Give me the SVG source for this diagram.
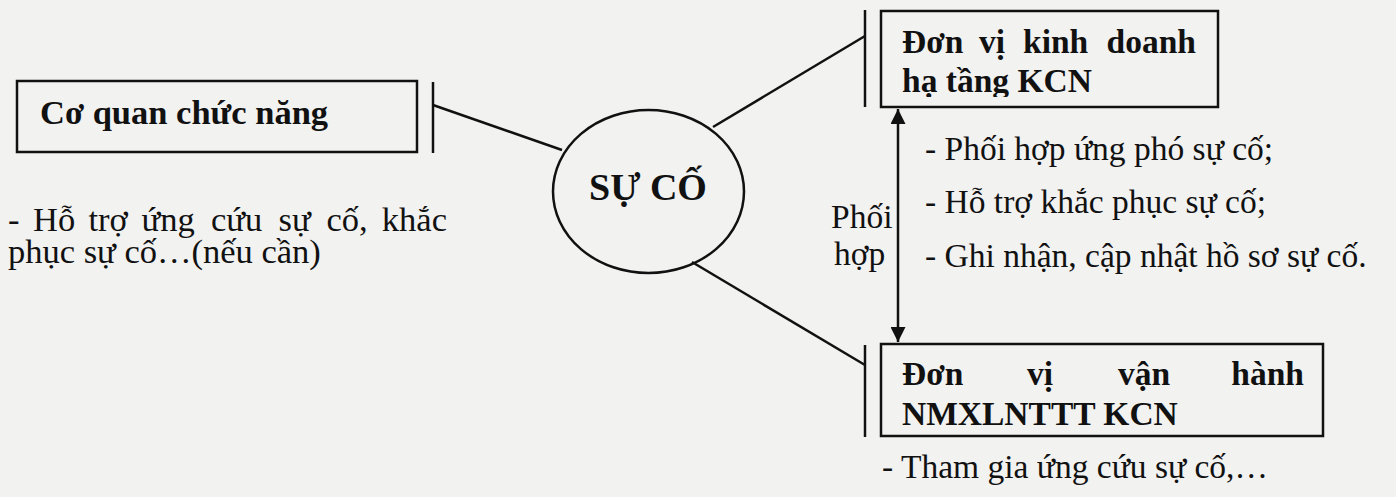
<svg xmlns="http://www.w3.org/2000/svg" width="1396" height="497" viewBox="0 0 1396 497">
<style>
.bg{fill:#f2f2f1}
.box{fill:none;stroke:#111;stroke-width:2.5}
.ln{fill:none;stroke:#111;stroke-width:2.5}
.t{font-family:"Liberation Serif","Times New Roman",serif;font-size:33.5px;fill:#111}
.b{font-weight:bold}
.l{font-size:34.5px}
</style>
<defs>
<marker id="ah" viewBox="0 0 10 10" refX="10" refY="5" markerWidth="15" markerHeight="15" markerUnits="userSpaceOnUse" orient="auto-start-reverse">
<path d="M0,0 L10,5 L0,10 z" fill="#111"/>
</marker>
<clipPath id="clipTop"><rect x="880" y="10" width="340" height="87"/></clipPath>
</defs>
<rect class="bg" x="0" y="0" width="1396" height="497"/>

<g id="connectors">
<line class="ln" x1="433" y1="82" x2="433" y2="153"/>
<line class="ln" x1="433" y1="105" x2="562" y2="150"/>
<line class="ln" x1="865" y1="10" x2="865" y2="107"/>
<line class="ln" x1="713" y1="127" x2="865" y2="36"/>
<line class="ln" x1="865" y1="345" x2="865" y2="437"/>
<line class="ln" x1="692" y1="262" x2="865" y2="365"/>
<line class="ln" x1="898" y1="109" x2="898" y2="342" marker-start="url(#ah)" marker-end="url(#ah)"/>
<text class="t" x="831" y="228">Phối</text>
<text class="t" x="834" y="265">hợp</text>
</g>

<g id="node-co-quan">
<rect class="box" x="17" y="81" width="400" height="71"/>
<text class="t b" x="40" y="124" style="font-size:34.5px">Cơ quan chức năng</text>
<text class="t l" y="231"><tspan x="8">-</tspan><tspan x="33">Hỗ</tspan><tspan x="88.5">trợ</tspan><tspan x="141.5">ứng</tspan><tspan x="211">cứu</tspan><tspan x="278.5">sự</tspan><tspan x="326.5">cố,</tspan></text>
<text class="t l" x="447" y="231" text-anchor="end">khắc</text>
<text class="t l" x="8" y="263">phục sự cố…(nếu cần)</text>
</g>

<g id="node-su-co">
<ellipse class="box" cx="648.5" cy="191.5" rx="95.5" ry="81.5"/>
<text class="t b" x="648" y="200" text-anchor="middle" style="font-size:38px">SỰ CỐ</text>
</g>

<g id="node-kinh-doanh">
<rect class="box" x="881" y="11" width="337" height="96"/>
<g clip-path="url(#clipTop)">
<text class="t b" y="53"><tspan x="902">Đơn</tspan><tspan x="979">vị</tspan><tspan x="1023">kinh</tspan></text>
<text class="t b" x="1196" y="53" text-anchor="end">doanh</text>
<text class="t b" x="902" y="92">hạ tầng KCN</text>
</g>
<text class="t" x="925" y="160">- Phối hợp ứng phó sự cố;</text>
<text class="t" x="925" y="213">- Hỗ trợ khắc phục sự cố;</text>
<text class="t" x="925" y="267">- Ghi nhận, cập nhật hồ sơ sự cố.</text>
</g>

<g id="node-van-hanh">
<rect class="box" x="881" y="344" width="442" height="92"/>
<text class="t b" y="385"><tspan x="902">Đơn</tspan><tspan x="1027">vị</tspan><tspan x="1118">vận</tspan></text>
<text class="t b" x="1304" y="385" text-anchor="end">hành</text>
<text class="t b" x="902" y="425">NMXLNTTT KCN</text>
<text class="t" x="882" y="478">- Tham gia ứng cứu sự cố,…</text>
</g>
</svg>
